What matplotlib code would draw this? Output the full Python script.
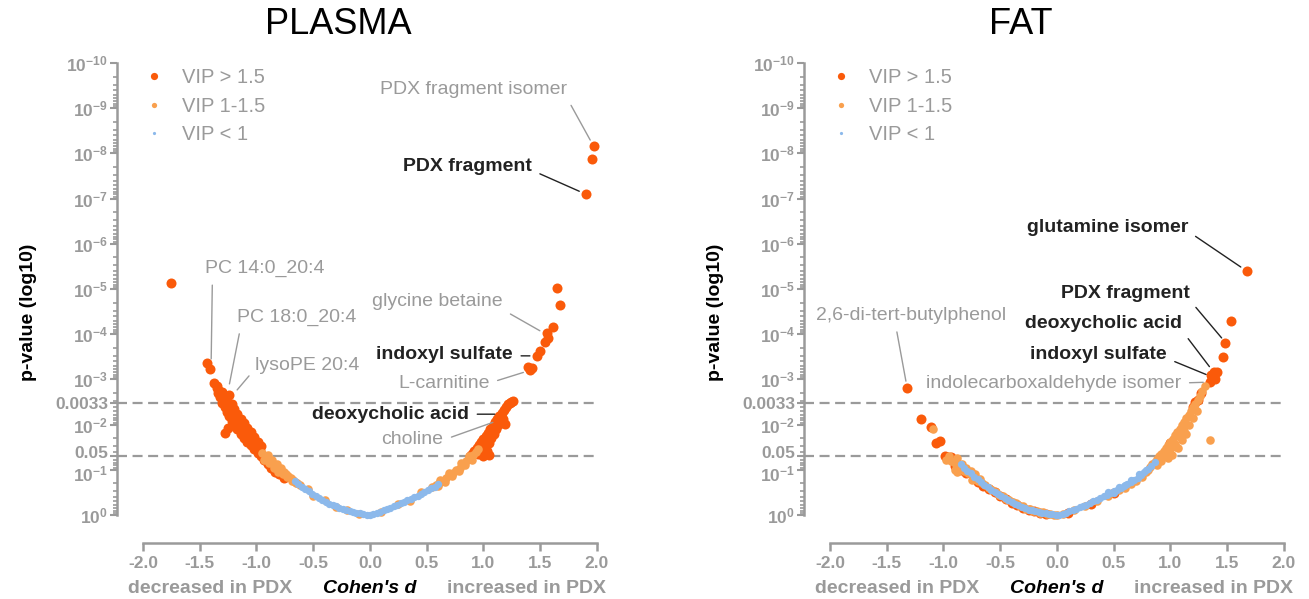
import numpy as np
import matplotlib
matplotlib.use("Agg")
import matplotlib.pyplot as plt
from matplotlib.lines import Line2D
from matplotlib.transforms import blended_transform_factory, ScaledTranslation

plt.rcParams['font.family'] = ['Liberation Sans', 'DejaVu Sans']
plt.rcParams['axes.unicode_minus'] = False
plt.rcParams['mathtext.fontset'] = 'custom'
plt.rcParams['mathtext.rm'] = 'Liberation Sans'
plt.rcParams['mathtext.bf'] = 'Liberation Sans:bold'

#colors
RED = '#fa5a0a'
ORANGE = '#f9a04e'
BLUE = '#8cb9eb'
GREY = '#9a9a9a'
DARK = '#222222'

# ---------------- PLASMA data (Cohen's d, -log10 p) ----------------
pl_red_d = [-1.75, -1.44, -1.41,
            -1.37, -1.35, -1.34, -1.32, -1.30, -1.28, -1.26, -1.24, -1.22, -1.20, -1.17, -1.14, -1.11, -1.08, -1.05, -1.02, -0.99, -0.96, -0.93,
            -1.35, -1.33, -1.31, -1.29, -1.27, -1.25, -1.23, -1.21, -1.19, -1.17, -1.15, -1.13, -1.11, -1.09, -1.07, -1.05, -1.03, -1.01, -0.99, -0.97,
            -1.30, -1.27, -1.24, -1.22, -1.20, -1.17, -1.14, -1.11, -1.08, -1.05, -1.02, -0.99, -0.96,
            -1.28, -1.25, -0.90, -0.87, -0.84, -0.80, -0.76,
            0.88, 0.90, 0.92, 0.94, 0.96, 0.98, 1.00, 1.02, 1.04, 1.06, 1.08, 1.10, 1.12, 1.14, 1.16, 1.18, 1.20, 1.22, 1.24,
            0.95, 0.98, 1.01, 1.03, 1.05, 1.07, 1.09, 1.11, 1.13, 1.15, 1.17, 1.00, 1.05, 1.19, 1.26, 1.23,
            1.39, 1.41, 1.43, 1.47, 1.50, 1.54, 1.56, 1.57, 1.61, 1.67, 1.65, 1.90, 1.96, 1.97]
pl_red_p = [5.13, 3.36, 3.23,
            2.92, 2.85, 2.70, 2.60, 2.48, 2.38, 2.28, 2.18, 2.08, 2.00, 1.90, 1.80, 1.71, 1.62, 1.54, 1.46, 1.38, 1.30, 1.22,
            2.80, 2.74, 2.64, 2.54, 2.46, 2.37, 2.29, 2.21, 2.13, 2.06, 1.99, 1.92, 1.85, 1.78, 1.71, 1.65, 1.59, 1.52, 1.47, 1.41,
            2.72, 2.62, 2.65, 2.45, 2.35, 2.24, 2.13, 2.03, 1.93, 1.83, 1.72, 1.62, 1.53,
            1.81, 1.92, 1.12, 1.03, 0.96, 0.90, 0.82,
            1.30, 1.36, 1.42, 1.48, 1.55, 1.62, 1.68, 1.75, 1.82, 1.90, 1.97, 2.05, 2.12, 2.20, 2.26, 2.33, 2.40, 2.45, 2.50,
            1.35, 1.45, 1.50, 1.42, 1.60, 1.70, 1.80, 1.90, 1.98, 2.05, 2.12, 1.30, 1.33, 2.02, 2.52, 2.48,
            3.27, 3.20, 3.25, 3.52, 3.62, 3.83, 4.03, 3.91, 4.16, 4.65, 5.02, 7.10, 7.88, 8.16]

pl_orange_d = [-0.95, -0.92, -0.90, -0.88, -0.86, -0.84, -0.82, -0.80, -0.78, -0.76, -0.74, -0.72, -0.70, -0.68, -0.66, -0.64, -0.62,
               -0.93, -0.89, -0.85, -0.81, -0.77, -0.73, -0.69, -0.65, -0.90, -0.86, -0.82, -0.78,
               -0.55, -0.50, -0.40, -0.30, -0.20, -0.10, 0.10, 0.25, 0.35, 0.45,
               0.55, 0.58, 0.61, 0.64, 0.67, 0.70, 0.73, 0.76, 0.79, 0.82, 0.85, 0.88, 0.91, 0.93, 0.95,
               0.60, 0.66, 0.72, 0.78, 0.84, 0.90, 0.62, 0.70, 0.80, 0.87]
pl_orange_p = [1.38, 1.30, 1.25, 1.20, 1.15, 1.10, 1.06, 1.02, 0.98, 0.94, 0.90, 0.86, 0.82, 0.78, 0.74, 0.70, 0.67,
               1.22, 1.14, 1.05, 0.96, 0.90, 0.83, 0.76, 0.70, 1.32, 1.22, 1.13, 1.05,
               0.57, 0.42, 0.33, 0.17, 0.12, 0.03, 0.06, 0.25, 0.32, 0.50,
               0.62, 0.66, 0.71, 0.76, 0.82, 0.88, 0.93, 0.99, 1.05, 1.12, 1.19, 1.26, 1.33, 1.40, 1.45,
               0.64, 0.74, 0.86, 0.97, 1.10, 1.22, 0.78, 0.93, 1.14, 1.30]

pl_blue_d = [-0.66, -0.63, -0.60, -0.57, -0.54, -0.51, -0.48, -0.45, -0.42, -0.39, -0.36, -0.33, -0.30, -0.27, -0.24, -0.21,
             -0.18, -0.15, -0.12, -0.09, -0.06, -0.03, 0.00, 0.03, 0.06, 0.09, 0.12, 0.15, 0.18, 0.21, 0.24, 0.27, 0.30,
             0.33, 0.36, 0.39, 0.42, 0.45, 0.48, 0.51, 0.54, 0.57, 0.60]
pl_blue_p = [0.75, 0.69, 0.63, 0.58, 0.52, 0.47, 0.42, 0.38, 0.33, 0.29, 0.25, 0.22, 0.19, 0.16, 0.13, 0.11,
             0.09, 0.07, 0.05, 0.04, 0.03, 0.01, 0.00, 0.02, 0.04, 0.07, 0.10, 0.13, 0.16, 0.19, 0.22, 0.26, 0.29,
             0.33, 0.36, 0.39, 0.43, 0.47, 0.51, 0.55, 0.59, 0.63, 0.68]

# ---------------- FAT data (Cohen's d, -log10 p) ----------------
ft_red_d = [-1.32, -1.20, -1.11, -1.07, -1.03, -0.99, -0.97, -0.95, -0.93, -0.96,
            -0.90, -0.85, -0.80, -0.70, -0.65, -0.60, -0.55, -0.50, -0.45, -0.40, -0.35, -0.30, -0.25, -0.20, -0.15, -0.10,
            0.10, 0.30, 0.50, 1.00, 1.12, 1.20, 1.22, 1.24, 1.27,
            1.35, 1.37, 1.38, 1.36, 1.41, 1.39, 1.46, 1.48, 1.53, 1.67]
ft_red_p = [2.81, 2.12, 1.95, 1.59, 1.64, 1.30, 1.28, 1.27, 1.29, 1.25,
            1.08, 1.00, 0.92, 0.74, 0.65, 0.57, 0.50, 0.43, 0.36, 0.27, 0.22, 0.16, 0.11, 0.08, 0.05, 0.03,
            0.05, 0.24, 0.48, 1.60, 2.00, 2.40, 2.50, 2.55, 2.70,
            2.94, 3.05, 3.16, 3.10, 3.16, 3.00, 3.50, 3.80, 4.29, 5.40]

ft_orange_d = [-0.98, -0.95, -0.93, -0.90, -0.88, -0.86, -0.84, -0.82, -0.80, -0.78, -0.76, -0.74, -0.72, -0.70, -0.68, -0.66,
               -0.63, -0.60, -0.57, -0.54, -0.51, -0.48, -0.45, -0.42, -0.39, -0.36, -0.33, -0.30, -0.27, -0.24, -0.21,
               -0.18, -0.15, -0.12, -0.09, -0.06, -0.03, 0.00, -0.88, -0.90, -0.75, -1.09,
               0.05, 0.15, 0.25, 0.35, 0.45, 0.55, 0.60, 0.65, 0.70, 0.75,
               0.78, 0.80, 0.82, 0.84, 0.86, 0.88, 0.90, 0.92, 0.94, 0.96, 0.98, 1.00, 1.02, 1.04, 1.06, 1.08, 1.10, 1.12,
               1.14, 1.16, 1.18, 1.20, 1.22, 1.24, 1.26, 1.28, 1.30,
               0.88, 0.92, 0.96, 1.00, 1.04, 1.08, 1.12, 1.16, 1.20, 1.23,
               0.98, 1.05, 1.10, 1.14, 1.01, 1.07, 1.35]
ft_orange_p = [1.22, 1.30, 1.20, 1.15, 1.25, 1.05, 1.12, 0.98, 1.04, 0.92, 0.98, 0.86, 0.90, 0.76, 0.80, 0.70,
               0.66, 0.60, 0.56, 0.50, 0.45, 0.42, 0.36, 0.34, 0.28, 0.26, 0.20, 0.19, 0.14, 0.13, 0.09,
               0.09, 0.05, 0.06, 0.03, 0.03, 0.00, 0.00, 0.95, 1.00, 0.78, 1.90,
               0.02, 0.10, 0.20, 0.30, 0.42, 0.55, 0.60, 0.68, 0.76, 0.84,
               0.95, 1.00, 1.06, 1.12, 1.18, 1.24, 1.30, 1.36, 1.42, 1.48, 1.55, 1.62, 1.69, 1.76, 1.83, 1.90, 1.98, 2.06,
               2.14, 2.22, 2.30, 2.38, 2.46, 2.55, 2.64, 2.74, 2.85,
               1.10, 1.20, 1.32, 1.45, 1.58, 1.72, 1.86, 2.00, 2.15, 2.30,
               1.25, 1.50, 1.65, 1.80, 1.33, 1.48, 1.66]

ft_blue_d = [-0.85, -0.82, -0.79, -0.76, -0.73, -0.70, -0.67, -0.64, -0.61, -0.58, -0.55, -0.52, -0.49, -0.46, -0.43,
             -0.40, -0.37, -0.34, -0.31, -0.28, -0.25, -0.22, -0.19, -0.16, -0.13, -0.10, -0.07, -0.04, -0.01,
             0.02, 0.05, 0.08, 0.11, 0.14, 0.17, 0.20, 0.23, 0.26, 0.29, 0.32, 0.35, 0.38, 0.41, 0.44, 0.47, 0.50,
             0.53, 0.56, 0.59, 0.62, 0.65, 0.68, 0.71, 0.74, 0.77, 0.80, 0.83, 0.86,
             0.45, 0.50, 0.55, 0.60, 0.65, 0.72, 0.78]
ft_blue_p = [1.12, 1.05, 0.98, 0.92, 0.85, 0.79, 0.73, 0.67, 0.61, 0.55, 0.50, 0.46, 0.41, 0.37, 0.33,
             0.29, 0.25, 0.21, 0.18, 0.15, 0.12, 0.10, 0.08, 0.06, 0.05, 0.04, 0.03, 0.02, 0.01,
             0.01, 0.03, 0.05, 0.08, 0.11, 0.14, 0.17, 0.20, 0.23, 0.26, 0.30, 0.33, 0.37, 0.41, 0.45, 0.48, 0.52,
             0.56, 0.60, 0.64, 0.68, 0.72, 0.77, 0.82, 0.88, 0.94, 1.01, 1.09, 1.17,
             0.50, 0.48, 0.63, 0.66, 0.77, 0.90, 1.00]

# labels: text, target d, target -log10p, text d, text -log10p, bold, relpos
pl_labels = [("PDX fragment isomer", 1.97, 8.16, 0.91, 9.42, False, (1.0, 0.0)),
             ("PDX fragment", 1.90, 7.10, 0.86, 7.70, True, (1.0, 0.3)),
             ("glycine betaine", 1.55, 4.00, 0.595, 4.73, False, (1.0, 0.0)),
             ("indoxyl sulfate", 1.47, 3.52, 0.656, 3.54, True, (1.0, 0.45)),
             ("L-carnitine", 1.41, 3.20, 0.65, 2.92, False, (1.0, 0.5)),
             ("deoxycholic acid", 1.16, 2.23, 0.18, 2.23, True, (1.0, 0.5)),
             ("choline", 1.14, 2.10, 0.374, 1.66, False, (1.0, 0.5)),
             ("PC 14:0_20:4", -1.40, 3.30, -0.925, 5.46, False, (0.06, 0.0)),
             ("PC 18:0_20:4", -1.25, 2.75, -0.643, 4.38, False, (0.03, 0.0)),
             ("lysoPE 20:4", -1.21, 2.65, -0.55, 3.30, False, (0.0, 0.35))]
ft_labels = [("glutamine isomer", 1.67, 5.40, 0.445, 6.35, True, (1.0, 0.3)),
             ("PDX fragment", 1.49, 3.80, 0.60, 4.91, True, (1.0, 0.1)),
             ("deoxycholic acid", 1.38, 3.16, 0.41, 4.23, True, (1.0, 0.1)),
             ("indoxyl sulfate", 1.37, 3.05, 0.366, 3.54, True, (1.0, 0.3)),
             ("indolecarboxaldehyde isomer", 1.35, 2.94, -0.03, 2.92, False, (1.0, 0.5)),
             ("2,6-di-tert-butylphenol", -1.32, 2.81, -1.29, 4.42, False, (0.42, 0.0))]


def p_of(neglog):
    return 10.0 ** (-np.asarray(neglog))


def volcano(ax, red, orange, blue, labels, title_x, title):
    ax.set_yscale('log')
    ax.set_xlim(-2.229, 2.053)
    ax.set_ylim(10 ** 0.62, 1e-10)

    #points
    ax.scatter(red[0], p_of(red[1]), s=52, color=RED, lw=0, zorder=3)
    ax.scatter(orange[0], p_of(orange[1]), s=38, color=ORANGE, lw=0, zorder=4)
    ax.scatter(blue[0], p_of(blue[1]), s=28, color=BLUE, lw=0, zorder=5)

    #thresholds
    for thr in [0.0033, 0.05]:
        ax.hlines(thr, -2.229, 2.0, colors=GREY, linestyles=(0, (4.5, 2.5)), lw=1.6, zorder=1)

    #axes style
    for s in ['top', 'right']:
        ax.spines[s].set_visible(False)
    for s in ['left', 'bottom']:
        ax.spines[s].set_color(GREY)
        ax.spines[s].set_linewidth(1.8)
    ax.spines['left'].set_bounds(1, 1e-10)
    ax.spines['bottom'].set_bounds(-2, 2)

    yt = [10.0 ** e for e in range(-10, 1)] + [0.0033, 0.05]
    ylab = [r'$\mathbf{10^{%d}}$' % e for e in range(-10, 1)] + ['0.0033', '0.05']
    ax.set_yticks(yt)
    ax.set_yticklabels(ylab)
    ax.set_yticks([m * 10.0 ** e for e in range(-10, 0) for m in range(2, 10)], minor=True)
    ax.tick_params(axis='y', which='major', length=5, width=1.5, color=GREY, labelcolor=GREY,
                   labelsize=12.5, pad=1.5)
    ax.tick_params(axis='y', which='minor', length=3, width=1.2, color=GREY)
    for t in ax.get_yticklabels():
        t.set_fontweight('bold')
    # 0.05 sits just above 10^-1, as in the original
    shift_up = ScaledTranslation(0, 3 / 72, ax.figure.dpi_scale_trans)
    shift_dn = ScaledTranslation(0, -2 / 72, ax.figure.dpi_scale_trans)
    labs = ax.get_yticklabels()
    labs[-1].set_transform(labs[-1].get_transform() + shift_up)
    labs[9].set_transform(labs[9].get_transform() + shift_dn)

    xt = [-2.0, -1.5, -1.0, -0.5, 0.0, 0.5, 1.0, 1.5, 2.0]
    ax.set_xticks(xt)
    ax.set_xticklabels(['%.1f' % v for v in xt])
    ax.tick_params(axis='x', length=6, width=1.8, color=GREY, labelcolor=GREY, labelsize=12.5, pad=3)
    for t in ax.get_xticklabels():
        t.set_fontweight('bold')

    ax.set_ylabel('p-value (log10)', fontsize=14, fontweight='bold', color='black')
    ax.yaxis.set_label_coords(-0.165, 0.48)

    #x labels below axis
    tr = blended_transform_factory(ax.transData, ax.transAxes)
    ax.text(-1.41, -0.095, 'decreased in PDX', transform=tr, ha='center', va='center',
            fontsize=14, fontweight='bold', color=GREY)
    ax.text(0.0, -0.095, "Cohen's d", transform=tr, ha='center', va='center',
            fontsize=14, fontweight='bold', fontstyle='italic', color='black')
    ax.text(1.38, -0.095, 'increased in PDX', transform=tr, ha='center', va='center',
            fontsize=14, fontweight='bold', color=GREY)

    #legend
    handles = [Line2D([], [], ls='', marker='o', ms=5.2, mfc=RED, mec='none', label='VIP > 1.5'),
               Line2D([], [], ls='', marker='o', ms=3.8, mfc=ORANGE, mec='none', label='VIP 1-1.5'),
               Line2D([], [], ls='', marker='o', ms=2.3, mfc=BLUE, mec='none', label='VIP < 1')]
    leg = ax.legend(handles=handles, loc='upper left', bbox_to_anchor=(0.039, 1.006), frameon=False,
                    fontsize=14.5, handlelength=1.0, handletextpad=0.9, labelspacing=0.47,
                    borderpad=0.4, borderaxespad=0)
    for t in leg.get_texts():
        t.set_color(GREY)

    #annotations
    for txt, xd, xp, td, tp, bold, rp in labels:
        ax.annotate(txt, xy=(xd, 10.0 ** -xp), xytext=(td, 10.0 ** -tp), ha='center', va='center',
                    fontsize=14, fontweight='bold' if bold else 'normal',
                    color=DARK if bold else GREY, zorder=6,
                    arrowprops=dict(arrowstyle='-', color=DARK if bold else GREY, lw=1.0,
                                    shrinkA=4, shrinkB=5, relpos=rp))

    ax.figure.text(title_x, 1 - 25 / 599, title, ha='center', va='center', fontsize=26, color='black')


#layouts
fig = plt.figure(figsize=(13.09, 5.99), dpi=100)
ax_pl = fig.add_axes([117 / 1309, 56 / 599, 486 / 1309, 480 / 599])
ax_ft = fig.add_axes([804 / 1309, 56 / 599, 486 / 1309, 480 / 599])

volcano(ax_pl, (pl_red_d, pl_red_p), (pl_orange_d, pl_orange_p), (pl_blue_d, pl_blue_p),
        pl_labels, 338 / 1309, 'PLASMA')
volcano(ax_ft, (ft_red_d, ft_red_p), (ft_orange_d, ft_orange_p), (ft_blue_d, ft_blue_p),
        ft_labels, 1021 / 1309, 'FAT')

fig.savefig('out.png', dpi=100)
